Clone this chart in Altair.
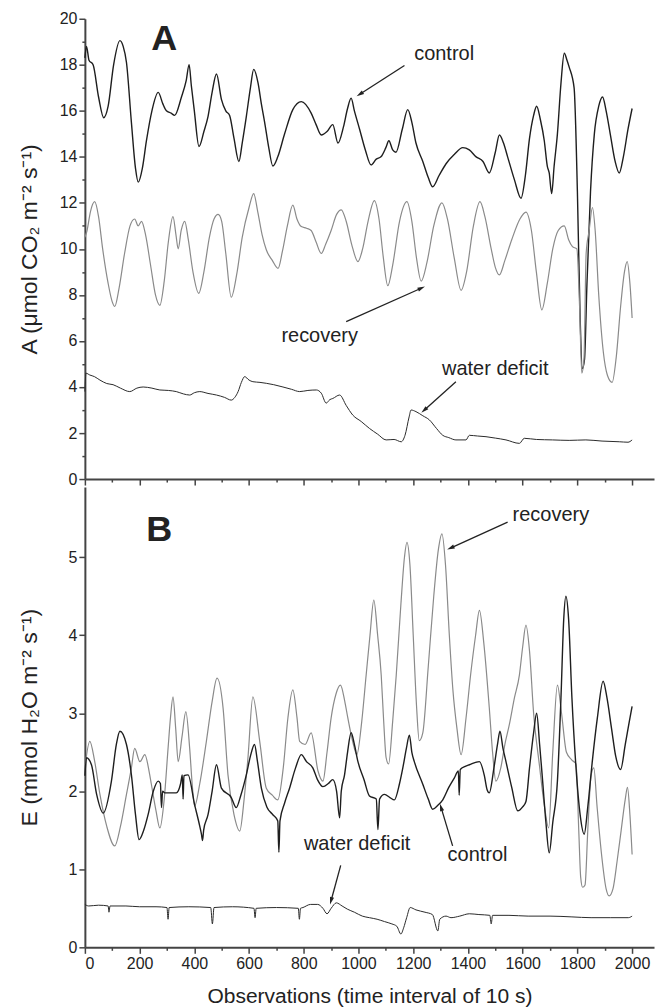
import math
import altair as alt
import pandas as pd

# ---------------- data ----------------
# Panel A : net photosynthesis
ctrlA_x = [0, 6, 15, 30, 50, 69, 85, 105, 128, 140, 152, 170, 185, 195, 210, 225, 245, 268, 285, 298, 315, 328, 353, 370, 381, 389, 400, 417, 435, 450, 465, 481, 499, 515, 529, 545, 563, 575, 590, 605, 617, 633, 645, 657, 672, 687, 705, 730, 760, 791, 827, 845, 864, 885, 906, 925, 945, 960, 973, 985, 1004, 1025, 1046, 1065, 1082, 1100, 1111, 1125, 1137, 1160, 1180, 1195, 1210, 1235, 1255, 1271, 1295, 1320, 1350, 1381, 1405, 1430, 1455, 1478, 1500, 1515, 1530, 1545, 1570, 1594, 1610, 1625, 1640, 1651, 1665, 1679, 1690, 1697, 1706, 1715, 1727, 1740, 1752, 1762, 1770, 1788, 1800, 1810, 1818, 1826, 1835, 1848, 1862, 1878, 1892, 1905, 1920, 1938, 1953, 1968, 1985, 2000]
ctrlA_y = [18.3, 18.8, 18.2, 18.0, 16.6, 15.7, 16.2, 18.0, 19.05, 18.8, 18.1, 15.5, 13.5, 12.9, 13.5, 14.7, 16.0, 16.8, 16.3, 16.0, 15.9, 15.8, 16.6, 17.3, 18.0, 17.1, 16.0, 14.45, 15.1, 15.75, 16.8, 17.6, 16.5, 16.0, 15.8, 14.8, 13.8, 14.6, 15.75, 17.0, 17.8, 17.2, 16.3, 15.5, 14.4, 13.6, 14.0, 15.0, 16.05, 16.4, 15.9, 15.4, 14.95, 15.1, 15.4, 14.6, 15.3, 16.1, 16.55, 16.0, 15.2, 14.3, 13.65, 13.9, 14.0, 14.4, 14.7, 14.3, 14.2, 15.2, 16.05, 15.5, 14.6, 13.8, 13.1, 12.7, 13.2, 13.7, 14.1, 14.4, 14.3, 14.0, 13.8, 13.3, 14.2, 14.95, 14.6, 14.0, 13.0, 12.2, 13.2, 14.8, 15.8, 16.2, 15.6, 14.7, 13.6, 13.3, 12.4, 13.6, 15.0, 17.2, 18.5, 18.2, 17.9, 17.0, 12.5, 7.0, 4.8, 5.2, 8.5, 12.5, 15.0, 16.2, 16.6, 16.0, 15.0, 13.8, 13.3, 14.0, 15.2, 16.1]

recA_x = [0, 8, 20, 36, 50, 65, 85, 100, 109, 125, 145, 165, 182, 195, 207, 222, 240, 258, 274, 290, 305, 322, 333, 341, 352, 365, 378, 395, 416, 435, 455, 472, 487, 500, 515, 535, 555, 575, 600, 617, 632, 648, 663, 685, 706, 722, 740, 760, 775, 791, 810, 827, 845, 864, 880, 900, 920, 937, 955, 975, 998, 1015, 1035, 1058, 1075, 1090, 1107, 1125, 1150, 1177, 1195, 1212, 1229, 1250, 1275, 1305, 1325, 1350, 1375, 1395, 1420, 1444, 1462, 1485, 1500, 1515, 1535, 1560, 1590, 1612, 1632, 1650, 1670, 1690, 1710, 1730, 1752, 1768, 1782, 1798, 1808, 1816, 1824, 1832, 1843, 1855, 1865, 1878, 1895, 1910, 1927, 1942, 1958, 1972, 1982, 1992, 2000]
recA_y = [10.5, 10.8, 11.6, 12.05, 11.4, 10.0, 8.5, 7.7, 7.5, 8.3, 9.8, 11.0, 11.3, 11.0, 11.2, 10.6, 9.3, 8.0, 7.55, 8.6, 10.3, 11.4, 10.6, 10.0, 10.8, 11.2, 10.4, 9.0, 8.07, 9.0, 10.5, 11.3, 11.5, 11.2, 9.8, 7.9, 8.9, 10.5, 11.8, 12.4, 11.6, 10.6, 9.96, 9.5, 9.15, 9.9, 11.0, 11.9, 11.3, 10.97, 10.9, 10.8, 10.3, 9.8, 10.2, 10.8, 11.5, 11.7, 11.2, 10.2, 9.45, 10.0, 11.2, 12.1, 11.3, 9.7, 8.4, 9.3, 11.2, 12.05, 11.2, 9.6, 8.6, 9.4, 11.0, 12.0, 11.3, 9.6, 8.2, 9.0, 11.0, 12.05, 11.4, 10.0, 9.2, 8.87, 9.5, 10.4, 11.3, 11.6, 10.8, 9.0, 7.35, 8.5, 10.0, 10.8, 11.0, 10.4, 10.1, 10.0, 7.5, 4.6, 5.2, 9.8, 10.8, 11.8, 10.8, 8.0, 5.5, 4.5, 4.2, 5.3, 7.5, 9.0, 9.45, 8.5, 7.0]

wdA_x = [0, 4, 18, 35, 55, 80, 103, 130, 164, 190, 213, 245, 274, 305, 334, 360, 383, 400, 420, 450, 481, 510, 535, 548, 560, 572, 584, 600, 614, 640, 663, 690, 724, 755, 785, 815, 846, 864, 882, 895, 906, 931, 955, 979, 1010, 1040, 1070, 1101, 1130, 1156, 1170, 1185, 1192, 1210, 1235, 1259, 1285, 1308, 1330, 1356, 1393, 1405, 1435, 1466, 1500, 1539, 1588, 1606, 1650, 1709, 1770, 1831, 1890, 1953, 1985, 2000]
wdA_y = [3.8, 4.6, 4.52, 4.45, 4.3, 4.15, 4.1, 3.95, 3.8, 3.95, 4.0, 3.95, 3.87, 3.85, 3.8, 3.7, 3.65, 3.75, 3.8, 3.72, 3.65, 3.55, 3.43, 3.55, 3.8, 4.2, 4.45, 4.3, 4.23, 4.2, 4.16, 4.1, 4.0, 3.9, 3.8, 3.85, 3.87, 3.73, 3.3, 3.45, 3.5, 3.65, 3.2, 2.78, 2.5, 2.2, 1.95, 1.7, 1.72, 1.62, 1.9, 2.7, 3.0, 2.93, 2.75, 2.57, 2.2, 1.9, 1.8, 1.7, 1.7, 1.9, 1.87, 1.84, 1.78, 1.7, 1.55, 1.77, 1.72, 1.7, 1.68, 1.7, 1.65, 1.62, 1.6, 1.7]

# Panel B : transpiration
ctrlB_x = [0, 6, 24, 43, 67, 97, 115, 128, 152, 170, 185, 198, 215, 231, 250, 268, 276, 280, 284, 292, 334, 350, 356, 359, 362, 377, 401, 420, 426, 430, 434, 450, 465, 481, 499, 535, 553, 570, 590, 605, 620, 630, 645, 665, 687, 705, 709, 713, 730, 748, 770, 791, 810, 833, 850, 870, 890, 906, 920, 931, 937, 949, 960, 973, 985, 998, 1020, 1040, 1065, 1071, 1077, 1095, 1115, 1131, 1150, 1162, 1175, 1186, 1195, 1204, 1235, 1255, 1271, 1290, 1308, 1330, 1350, 1365, 1368, 1372, 1390, 1405, 1442, 1460, 1470, 1478, 1495, 1508, 1517, 1528, 1539, 1560, 1582, 1600, 1612, 1625, 1640, 1651, 1662, 1673, 1685, 1697, 1710, 1727, 1740, 1750, 1758, 1768, 1780, 1795, 1810, 1825, 1838, 1855, 1873, 1894, 1908, 1925, 1940, 1958, 1975, 1990, 2000]
ctrlB_y = [2.2, 2.43, 2.34, 1.96, 1.72, 2.13, 2.6, 2.77, 2.6, 2.21, 1.7, 1.38, 1.5, 1.7, 2.0, 2.13, 2.1, 1.79, 2.0, 1.98, 1.98, 2.1, 2.21, 1.9, 2.2, 2.21, 1.83, 1.55, 1.45, 1.37, 1.5, 1.7, 2.0, 2.34, 2.04, 1.92, 1.79, 1.95, 2.21, 2.45, 2.6, 2.4, 2.04, 1.8, 1.7, 1.62, 1.22, 1.62, 1.85, 2.04, 2.3, 2.47, 2.38, 2.3, 2.15, 2.06, 2.1, 2.15, 2.0, 1.66, 2.0, 2.21, 2.5, 2.75, 2.6, 2.38, 2.15, 1.94, 1.9, 1.51, 1.9, 1.96, 1.92, 1.89, 2.1, 2.3, 2.55, 2.72, 2.5, 2.38, 2.09, 1.9, 1.77, 1.82, 1.89, 2.05, 2.17, 2.26, 1.95, 2.28, 2.32, 2.34, 2.38, 2.2, 2.02, 1.98, 2.3, 2.6, 2.77, 2.55, 2.38, 2.05, 1.75, 1.8, 1.87, 2.3, 2.75, 3.0, 2.6, 2.13, 1.6, 1.21, 1.6, 2.13, 3.2, 4.2, 4.5, 4.2, 3.2, 2.3, 1.7, 1.45, 1.8, 2.4, 2.94, 3.41, 3.2, 2.8, 2.45, 2.28, 2.6, 2.9, 3.09]

recB_x = [0, 18, 35, 55, 80, 109, 130, 152, 170, 182, 201, 219, 235, 243, 260, 274, 290, 304, 313, 322, 332, 341, 355, 369, 383, 392, 401, 420, 444, 465, 483, 505, 523, 545, 566, 582, 596, 614, 639, 663, 685, 705, 725, 742, 760, 775, 785, 805, 827, 852, 870, 885, 900, 918, 934, 950, 961, 978, 994, 1012, 1028, 1042, 1056, 1070, 1083, 1092, 1101, 1110, 1125, 1138, 1155, 1168, 1177, 1188, 1200, 1212, 1222, 1235, 1255, 1275, 1292, 1305, 1318, 1332, 1345, 1360, 1375, 1393, 1410, 1428, 1442, 1458, 1478, 1490, 1502, 1520, 1535, 1551, 1570, 1588, 1600, 1612, 1625, 1640, 1661, 1680, 1695, 1710, 1727, 1742, 1760, 1780, 1795, 1805, 1812, 1819, 1828, 1838, 1850, 1860, 1872, 1888, 1905, 1916, 1930, 1945, 1960, 1975, 1983, 1992, 2000]
recB_y = [2.3, 2.64, 2.4, 1.96, 1.55, 1.3, 1.55, 1.96, 2.3, 2.55, 2.38, 2.47, 2.25, 2.09, 1.75, 1.53, 1.9, 2.55, 2.95, 3.21, 2.8, 2.38, 2.7, 3.02, 2.55, 2.1, 1.81, 2.1, 2.64, 3.15, 3.45, 3.07, 2.21, 1.7, 1.49, 1.9, 2.43, 3.21, 2.64, 2.04, 1.95, 1.89, 2.3, 2.94, 3.3, 2.95, 2.64, 2.6, 2.75, 2.26, 2.13, 2.5, 2.94, 3.25, 3.36, 3.15, 2.94, 2.65, 2.47, 2.9, 3.49, 4.0, 4.45, 4.0, 3.49, 2.9, 2.43, 2.35, 2.9, 3.49, 4.4, 5.0, 5.19, 4.9, 4.0, 3.1, 2.65, 2.75, 3.6, 4.5, 5.1, 5.3, 4.9, 4.0, 3.3, 2.8, 2.47, 2.94, 3.5, 4.0, 4.32, 3.9, 3.07, 2.5, 2.13, 2.3, 2.6, 2.85, 3.2, 3.49, 3.85, 4.13, 3.8, 3.0, 2.34, 1.8, 1.53, 2.5, 3.36, 3.0, 2.5, 2.4, 2.35, 1.5, 0.9, 0.77, 0.8, 1.5, 2.2, 2.3, 1.8, 1.2, 0.75, 0.66, 0.75, 1.1, 1.5, 1.9, 2.05, 1.7, 1.19]

wdB_x = [0, 14, 50, 85, 88, 92, 150, 200, 260, 300, 304, 308, 380, 460, 466, 472, 540, 618, 622, 626, 700, 780, 784, 788, 797, 825, 851, 870, 885, 900, 919, 940, 959, 985, 1014, 1040, 1068, 1095, 1122, 1140, 1155, 1165, 1176, 1189, 1210, 1243, 1270, 1290, 1297, 1320, 1338, 1370, 1405, 1440, 1480, 1485, 1490, 1550, 1620, 1700, 1780, 1850, 1920, 1986, 2000]
wdB_y = [0.55, 0.53, 0.54, 0.53, 0.45, 0.53, 0.53, 0.52, 0.52, 0.51, 0.36, 0.51, 0.52, 0.51, 0.30, 0.51, 0.52, 0.5, 0.38, 0.5, 0.51, 0.5, 0.36, 0.5, 0.51, 0.55, 0.55, 0.5, 0.43, 0.5, 0.57, 0.53, 0.49, 0.45, 0.4, 0.38, 0.36, 0.33, 0.30, 0.27, 0.17, 0.25, 0.38, 0.51, 0.48, 0.45, 0.42, 0.21, 0.36, 0.4, 0.38, 0.4, 0.43, 0.42, 0.41, 0.3, 0.41, 0.41, 0.4, 0.4, 0.39, 0.38, 0.38, 0.38, 0.4]

series_names = ["control", "recovery", "water deficit"]

# annotations (data coordinates)
annA_text = ["control", "recovery", "water deficit"]
annA_x = [1313, 858, 1500]
annA_y = [18.45, 6.2, 4.8]
arrA_x1 = [1168, 955, 1356]
arrA_y1 = [17.97, 6.84, 4.23]
arrA_x2 = [1006, 1229, 1241]
arrA_y2 = [16.73, 8.29, 3.0]

annB_text = ["recovery", "water deficit", "control"]
annB_x = [1703, 995, 1435]
annB_y = [5.54, 1.32, 1.18]
arrB_x1 = [1545, 935, 1344]
arrB_y1 = [5.45, 1.05, 1.3]
arrB_x2 = [1338, 900, 1302]
arrB_y2 = [5.12, 0.6, 1.79]

x_ticks = list(range(0, 2001, 100))      # majors every 200 (labelled), minors in between
yA_ticks = list(range(0, 21, 1))         # majors every 2, minors at odd values
yB_ticks = [0, 0.5, 1, 1.5, 2, 2.5, 3, 3.5, 4, 4.5, 5, 5.5]

# ---------------- layout / style ----------------
W, H = 570, 461
XMAX = 2080
YA_MAX = 20
YB_MAX = 5.9
FONT = "Liberation Sans"
INK = "#222222"
AXC = "#444444"

xscale = alt.Scale(domain=[0, XMAX], nice=False, zero=False)
yAscale = alt.Scale(domain=[0, YA_MAX], nice=False)
yBscale = alt.Scale(domain=[0, YB_MAX], nice=False)

color = alt.Color("series:N", legend=None,
                  scale=alt.Scale(domain=series_names, range=["#1e1e1e", "#8a8a8a", "#2a2a2a"]))
swidth = alt.StrokeWidth("series:N", legend=None,
                         scale=alt.Scale(domain=series_names, range=[1.4, 1.0, 1.3]))


def frame(pairs):
    rows = []
    for name, xs, ys in pairs:
        for xv, yv in zip(xs, ys):
            rows.append({"series": name, "x": xv, "y": yv})
    return pd.DataFrame(rows)


def arrow_frame(x1, y1, x2, y2, sy):
    sx = W / XMAX
    rows = []
    for a, b, c, d in zip(x1, y1, x2, y2):
        dx = (c - a) * sx
        dys = -(d - b) * sy
        ang = math.degrees(math.atan2(dx, -dys)) % 360
        rows.append({"x": a, "y": b, "x2": c, "y2": d, "ang": ang})
    return pd.DataFrame(rows)


def panel(df, yscale, yticks, minor_test, ytitle, show_xlabels, ann_df, arr_df, letter, letter_xy):
    x_minor_test = "datum.value % 200 !== 0"
    x_axis = alt.Axis(
        values=x_ticks, orient="bottom", format="d",
        labels=show_xlabels,
        labelExpr="datum.value % 200 === 0 ? datum.label : ''",
        tickSize={"condition": {"test": x_minor_test, "value": 3}, "value": 6},
        title="Observations (time interval of 10 s)" if show_xlabels else None,
        titleFontSize=21, titleFontWeight="normal", titlePadding=14,
        labelPadding=2, labelFontSize=16, grid=False)
    y_axis = alt.Axis(
        values=yticks, orient="left", format="d",
        labelExpr=f"({minor_test}) ? '' : datum.label",
        tickSize={"condition": {"test": minor_test, "value": 3}, "value": 6},
        title=ytitle, titleFontSize=23, titleFontWeight="normal",
        titleX=-55, titleY=H / 2, titleAngle=270, titleAlign="center", titleBaseline="middle",
        labelFontSize=16, labelPadding=2, grid=False)

    lines = alt.Chart(df).mark_line(interpolate="monotone").encode(
        x=alt.X("x:Q", scale=xscale, axis=x_axis),
        y=alt.Y("y:Q", scale=yscale, axis=y_axis),
        color=color, strokeWidth=swidth, detail="series:N",
    )
    texts = alt.Chart(ann_df).mark_text(font=FONT, fontSize=20, color=INK).encode(
        x=alt.X("x:Q", scale=xscale, axis=None), y=alt.Y("y:Q", scale=yscale, axis=None),
        text="text:N")
    rules = alt.Chart(arr_df).mark_rule(color=INK, strokeWidth=1.3).encode(
        x=alt.X("x:Q", scale=xscale, axis=None), y=alt.Y("y:Q", scale=yscale, axis=None),
        x2="x2:Q", y2="y2:Q")
    heads = alt.Chart(arr_df).mark_point(
        shape="M0,-1L-0.5,0.8L0.5,0.8Z", filled=True, color=INK, opacity=1, size=70
    ).encode(x=alt.X("x2:Q", scale=xscale, axis=None), y=alt.Y("y2:Q", scale=yscale, axis=None),
             angle=alt.Angle("ang:Q", scale=None))
    lab_df = pd.DataFrame({"x": [letter_xy[0]], "y": [letter_xy[1]], "t": [letter]})
    lab = alt.Chart(lab_df).mark_text(font=FONT, fontSize=36, fontWeight="bold", color=INK).encode(
        x=alt.X("x:Q", scale=xscale, axis=None), y=alt.Y("y:Q", scale=yscale, axis=None),
        text="t:N")

    return alt.layer(lines, rules, heads, texts, lab).resolve_axis(
        x="independent", y="independent").properties(width=W, height=H)


dfA = frame([("control", ctrlA_x, ctrlA_y), ("recovery", recA_x, recA_y), ("water deficit", wdA_x, wdA_y)])
dfB = frame([("recovery", recB_x, recB_y), ("control", ctrlB_x, ctrlB_y), ("water deficit", wdB_x, wdB_y)])

annA = pd.DataFrame({"x": annA_x, "y": annA_y, "text": annA_text})
annB = pd.DataFrame({"x": annB_x, "y": annB_y, "text": annB_text})
arrA = arrow_frame(arrA_x1, arrA_y1, arrA_x2, arrA_y2, H / YA_MAX)
arrB = arrow_frame(arrB_x1, arrB_y1, arrB_x2, arrB_y2, H / YB_MAX)

panelA = panel(dfA, yAscale, yA_ticks, "datum.value % 2 !== 0",
               "A (μmol CO₂ m⁻² s⁻¹)", False, annA, arrA, "A", (290, 19.1))
panelB = panel(dfB, yBscale, yB_ticks, "datum.value % 1 !== 0",
               "E (mmol H₂O m⁻² s⁻¹)", True, annB, arrB, "B", (272, 5.35))

chart = alt.vconcat(panelA, panelB, spacing=0).configure(
    padding={"left": 11, "top": 2, "right": 2, "bottom": 2},
    font=FONT,
).configure_view(stroke=None).configure_axis(
    labelFont=FONT, titleFont=FONT, labelColor=INK, titleColor=INK,
    domainColor=AXC, tickColor=AXC, domainWidth=2, tickWidth=1.5,
)

chart.save("out.html", embed_options={"renderer": "svg", "actions": False})
